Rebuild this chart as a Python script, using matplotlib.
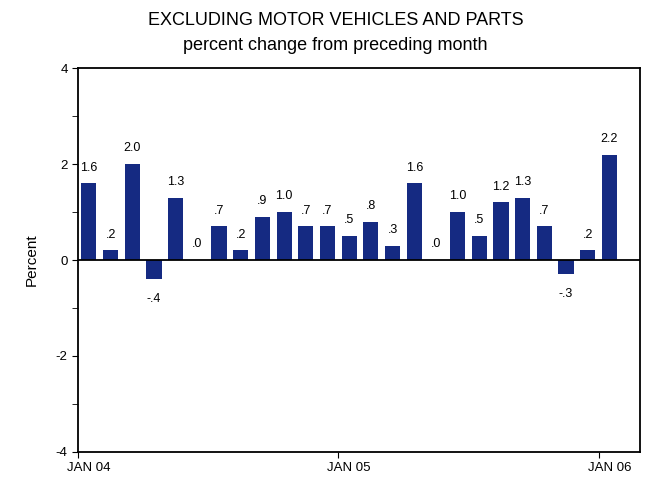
import numpy as np
import matplotlib
matplotlib.use("Agg")
import matplotlib.pyplot as plt
from matplotlib.ticker import MultipleLocator, FixedLocator, NullFormatter

plt.rcParams["font.family"] = ["Liberation Sans", "DejaVu Sans"]
plt.rcParams["axes.unicode_minus"] = False

# monthly percent change, Jan 2004 - Jan 2006
months = ["JAN 04", "FEB 04", "MAR 04", "APR 04", "MAY 04", "JUN 04", "JUL 04",
          "AUG 04", "SEP 04", "OCT 04", "NOV 04", "DEC 04", "JAN 05", "FEB 05",
          "MAR 05", "APR 05", "MAY 05", "JUN 05", "JUL 05", "AUG 05", "SEP 05",
          "OCT 05", "NOV 05", "DEC 05", "JAN 06"]
values = [1.6, 0.2, 2.0, -0.4, 1.3, 0.0, 0.7, 0.2, 0.9, 1.0, 0.7, 0.7, 0.5,
          0.8, 0.3, 1.6, 0.0, 1.0, 0.5, 1.2, 1.3, 0.7, -0.3, 0.2, 2.2]
tick_labels = ["JAN 04", "JAN 05", "JAN 06"]


def fmt(v):
    s = f"{v:.1f}"
    return s.replace("0.", ".") if abs(v) < 1 else s


fig = plt.figure(figsize=(6.45, 4.87), dpi=100)
ax = fig.add_axes([0.121, 0.072, 0.871, 0.788])

x = np.arange(len(values)) + 0.5
ax.bar(x, values, width=0.7, color="#152a82", zorder=2)
ax.axhline(0, color="black", lw=1.3, zorder=3)

for xi, v in zip(x, values):
    if v < 0:
        ax.annotate(fmt(v), (xi, v), xytext=(0, -10), textcoords="offset points",
                    ha="center", va="top", fontsize=9)
    else:
        ax.annotate(fmt(v), (xi, v), xytext=(0, 7), textcoords="offset points",
                    ha="center", va="bottom", fontsize=9)

ax.set_xlim(0, 25.9)
ax.set_ylim(-4, 4)
ax.yaxis.set_major_locator(MultipleLocator(2))
ax.yaxis.set_minor_locator(MultipleLocator(1))
ax.tick_params(axis="y", which="both", direction="out", length=4, labelsize=9.5)

# ticks at the start of each year, labels under the January bar
ax.xaxis.set_major_locator(FixedLocator([0, 12, 24]))
ax.xaxis.set_major_formatter(NullFormatter())
ax.xaxis.set_minor_locator(FixedLocator([0.5, 12.5, 24.5]))
ax.set_xticklabels(tick_labels, minor=True)
ax.tick_params(axis="x", which="major", direction="out", length=4)
ax.tick_params(axis="x", which="minor", length=0, labelsize=9.5, pad=7)

for sp in ax.spines.values():
    sp.set_linewidth(1.3)

ax.set_ylabel("Percent", fontsize=11, labelpad=12)
fig.text(0.52, 0.958, "EXCLUDING MOTOR VEHICLES AND PARTS", ha="center",
         va="center", fontsize=13)
fig.text(0.52, 0.907, "percent change from preceding month", ha="center",
         va="center", fontsize=13)

fig.savefig("out.png", dpi=100)
